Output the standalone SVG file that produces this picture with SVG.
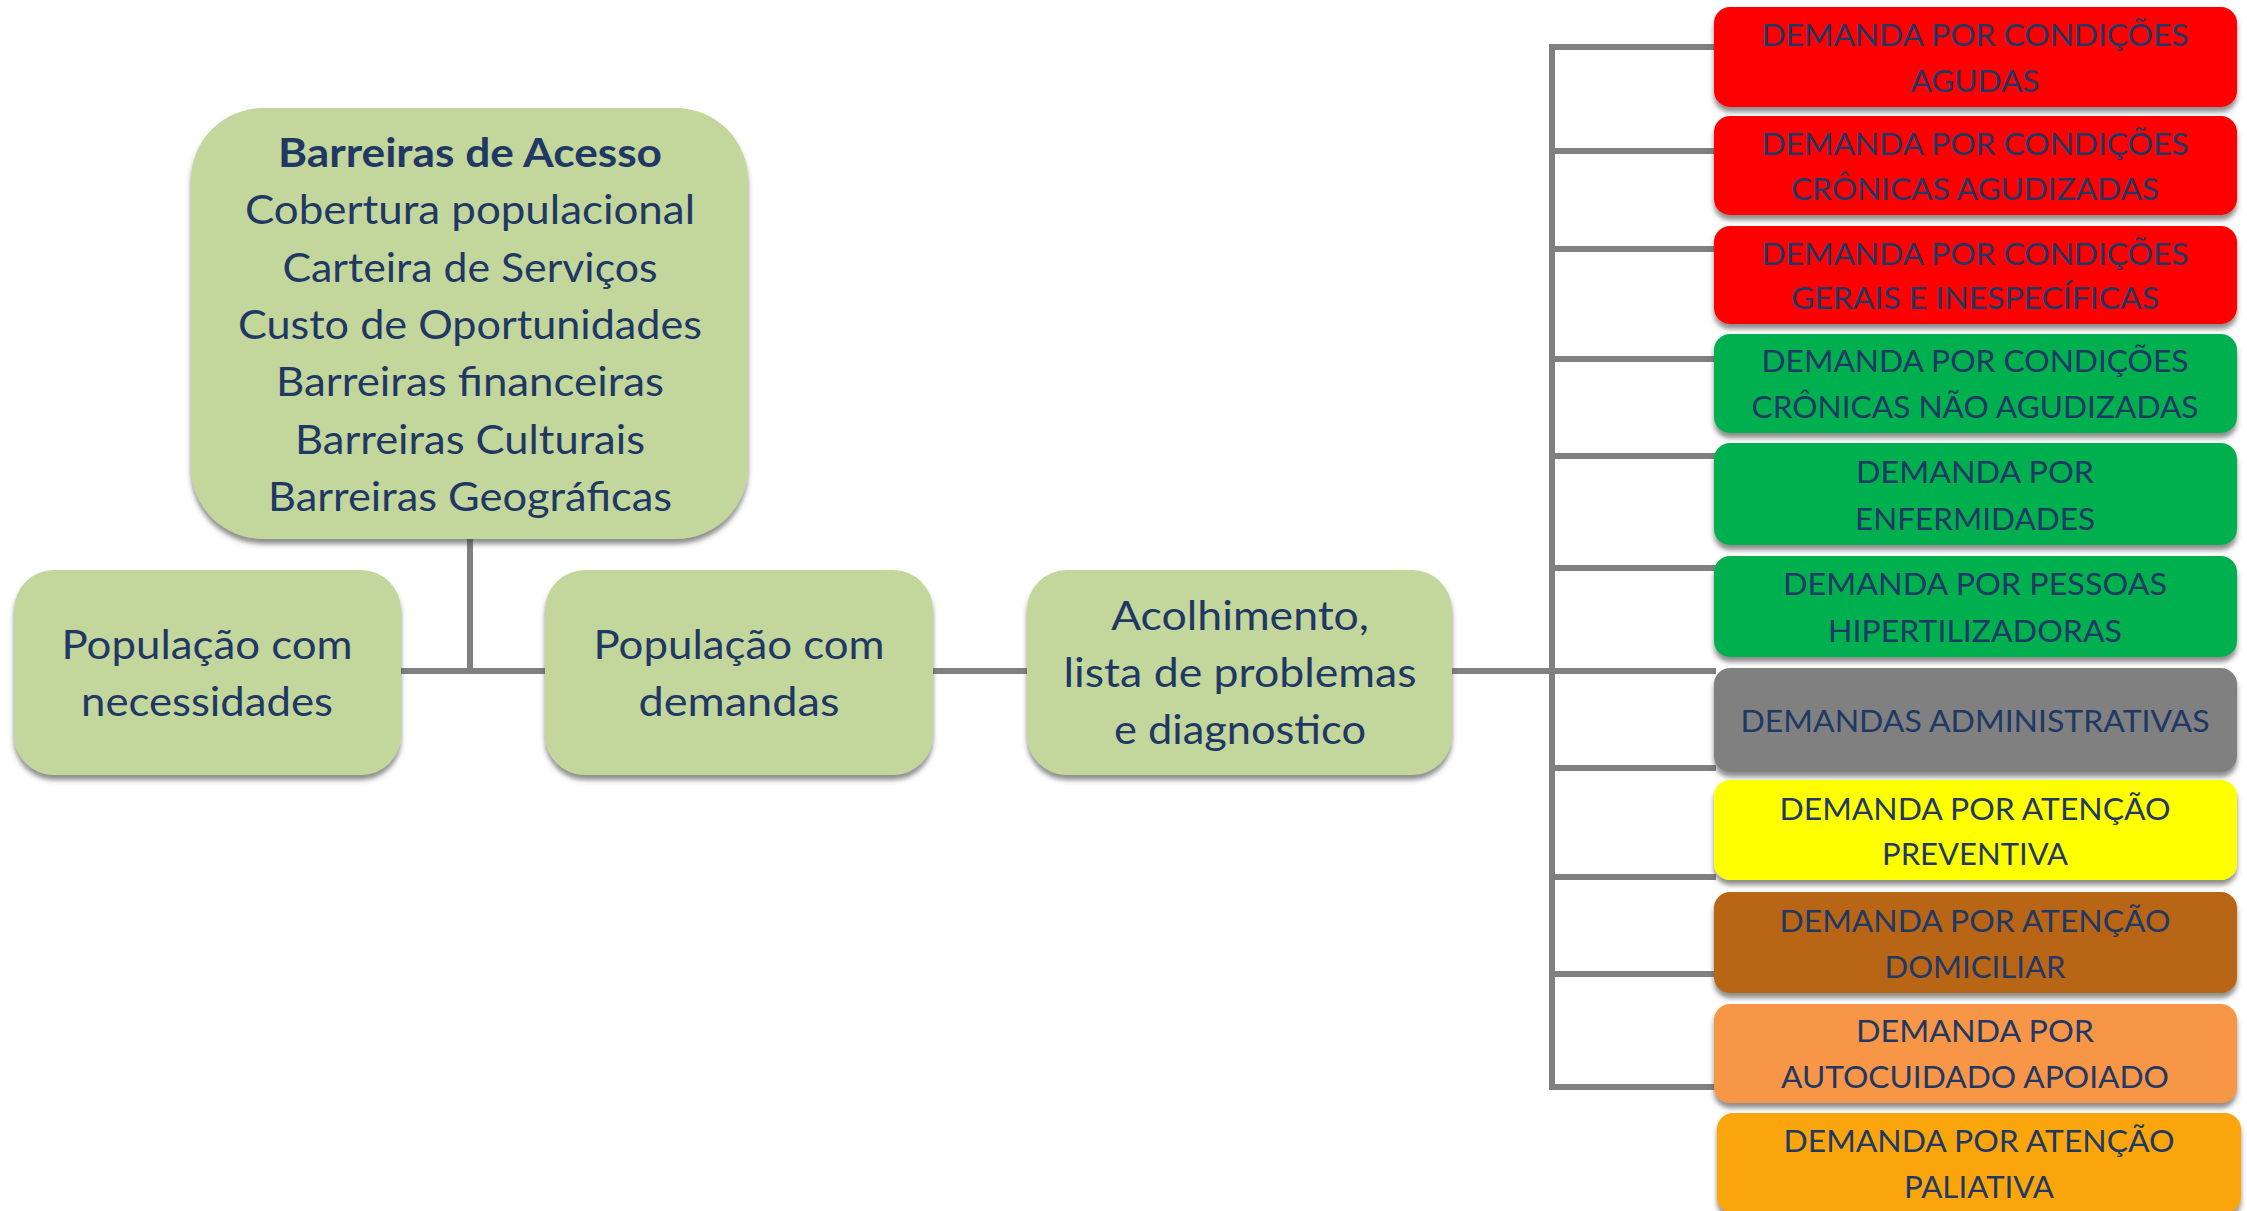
<svg xmlns="http://www.w3.org/2000/svg" width="2247" height="1211" viewBox="0 0 2247 1211">
<defs>
<filter id="sh" x="-10%" y="-10%" width="120%" height="130%">
<feDropShadow dx="0" dy="5" stdDeviation="2.5" flood-color="#404040" flood-opacity="0.6"/>
</filter>
<style>
.g{fill:#C3D69B;filter:url(#sh)}
.r{filter:url(#sh)}
.t{font-family:Lato,"Open Sans","DejaVu Sans",sans-serif;fill:#1F3864;text-anchor:middle}
.big{font-size:41px}
.sm{font-size:31px}
.c{stroke:#808080;stroke-width:6;fill:none}
</style>
</defs>
<rect width="2247" height="1211" fill="#ffffff"/>
<g id="connectors">
<line class="c" x1="470" y1="538" x2="470" y2="671"/>
<line class="c" x1="399" y1="671" x2="547" y2="671"/>
<line class="c" x1="931" y1="671" x2="1029" y2="671"/>
<line class="c" x1="1450" y1="671" x2="1716" y2="671"/>
<polyline class="c" points="1716,47 1552,47 1552,1087 1716,1087"/>
<line class="c" x1="1552" y1="151" x2="1716" y2="151"/>
<line class="c" x1="1552" y1="249" x2="1716" y2="249"/>
<line class="c" x1="1552" y1="359" x2="1716" y2="359"/>
<line class="c" x1="1552" y1="456" x2="1716" y2="456"/>
<line class="c" x1="1552" y1="568" x2="1716" y2="568"/>
<line class="c" x1="1552" y1="768" x2="1716" y2="768"/>
<line class="c" x1="1552" y1="877" x2="1716" y2="877"/>
<line class="c" x1="1552" y1="974" x2="1716" y2="974"/>
</g>
<g id="barreiras">
<rect class="g" x="191" y="108" width="557" height="431" rx="72"/>
<text class="t big" x="470" y="167" font-weight="bold" textLength="384" lengthAdjust="spacingAndGlyphs">Barreiras de Acesso</text>
<text class="t big" x="470" y="224" textLength="450" lengthAdjust="spacingAndGlyphs">Cobertura populacional</text>
<text class="t big" x="470" y="282" textLength="375" lengthAdjust="spacingAndGlyphs">Carteira de Serviços</text>
<text class="t big" x="470" y="339" textLength="464" lengthAdjust="spacingAndGlyphs">Custo de Oportunidades</text>
<text class="t big" x="470" y="396" textLength="388" lengthAdjust="spacingAndGlyphs">Barreiras financeiras</text>
<text class="t big" x="470" y="454" textLength="350" lengthAdjust="spacingAndGlyphs">Barreiras Culturais</text>
<text class="t big" x="470" y="511" textLength="404" lengthAdjust="spacingAndGlyphs">Barreiras Geográficas</text>
</g>
<g id="necessidades">
<rect class="g" x="14" y="570" width="387" height="205" rx="40"/>
<text class="t big" x="207" y="659" textLength="291" lengthAdjust="spacingAndGlyphs">População com</text>
<text class="t big" x="207" y="716" textLength="252" lengthAdjust="spacingAndGlyphs">necessidades</text>
</g>
<g id="demandas">
<rect class="g" x="545" y="570" width="388" height="205" rx="40"/>
<text class="t big" x="739" y="659" textLength="291" lengthAdjust="spacingAndGlyphs">População com</text>
<text class="t big" x="739" y="716" textLength="201" lengthAdjust="spacingAndGlyphs">demandas</text>
</g>
<g id="acolhimento">
<rect class="g" x="1027" y="570" width="425" height="205" rx="40"/>
<text class="t big" x="1240" y="630" textLength="258" lengthAdjust="spacingAndGlyphs">Acolhimento,</text>
<text class="t big" x="1240" y="687" textLength="353" lengthAdjust="spacingAndGlyphs">lista de problemas</text>
<text class="t big" x="1240" y="744" textLength="252" lengthAdjust="spacingAndGlyphs">e diagnostico</text>
</g>
<g id="d1">
<rect class="r" x="1714" y="7" width="523" height="100" rx="16" fill="#FF0000"/>
<text class="t sm" x="1975" y="46" textLength="427" lengthAdjust="spacingAndGlyphs">DEMANDA POR CONDIÇÕES</text>
<text class="t sm" x="1975" y="92" textLength="129" lengthAdjust="spacingAndGlyphs">AGUDAS</text>
</g>
<g id="d2">
<rect class="r" x="1714" y="116" width="523" height="99" rx="16" fill="#FF0000"/>
<text class="t sm" x="1975" y="155" textLength="427" lengthAdjust="spacingAndGlyphs">DEMANDA POR CONDIÇÕES</text>
<text class="t sm" x="1975" y="200" textLength="368" lengthAdjust="spacingAndGlyphs">CRÔNICAS AGUDIZADAS</text>
</g>
<g id="d3">
<rect class="r" x="1714" y="226" width="523" height="98" rx="16" fill="#FF0000"/>
<text class="t sm" x="1975" y="265" textLength="427" lengthAdjust="spacingAndGlyphs">DEMANDA POR CONDIÇÕES</text>
<text class="t sm" x="1975" y="309" textLength="368" lengthAdjust="spacingAndGlyphs">GERAIS E INESPECÍFICAS</text>
</g>
<g id="d4">
<rect class="r" x="1714" y="334" width="523" height="99" rx="16" fill="#00B050"/>
<text class="t sm" x="1975" y="372" textLength="427" lengthAdjust="spacingAndGlyphs">DEMANDA POR CONDIÇÕES</text>
<text class="t sm" x="1975" y="418" textLength="447" lengthAdjust="spacingAndGlyphs">CRÔNICAS NÃO AGUDIZADAS</text>
</g>
<g id="d5">
<rect class="r" x="1714" y="443" width="523" height="102" rx="16" fill="#00B050"/>
<text class="t sm" x="1975" y="483" textLength="238" lengthAdjust="spacingAndGlyphs">DEMANDA POR</text>
<text class="t sm" x="1975" y="530" textLength="240" lengthAdjust="spacingAndGlyphs">ENFERMIDADES</text>
</g>
<g id="d6">
<rect class="r" x="1714" y="556" width="523" height="101" rx="16" fill="#00B050"/>
<text class="t sm" x="1975" y="595" textLength="384" lengthAdjust="spacingAndGlyphs">DEMANDA POR PESSOAS</text>
<text class="t sm" x="1975" y="642" textLength="294" lengthAdjust="spacingAndGlyphs">HIPERTILIZADORAS</text>
</g>
<g id="d7">
<rect class="r" x="1714" y="668" width="523" height="104" rx="16" fill="#808080"/>
<text class="t sm" x="1975" y="732" textLength="469" lengthAdjust="spacingAndGlyphs">DEMANDAS ADMINISTRATIVAS</text>
</g>
<g id="d8">
<rect class="r" x="1714" y="780" width="523" height="100" rx="16" fill="#FFFF00"/>
<text class="t sm" x="1975" y="820" textLength="391" lengthAdjust="spacingAndGlyphs">DEMANDA POR ATENÇÃO</text>
<text class="t sm" x="1975" y="865" textLength="186" lengthAdjust="spacingAndGlyphs">PREVENTIVA</text>
</g>
<g id="d9">
<rect class="r" x="1714" y="892" width="523" height="101" rx="16" fill="#B86613"/>
<text class="t sm" x="1975" y="932" textLength="391" lengthAdjust="spacingAndGlyphs">DEMANDA POR ATENÇÃO</text>
<text class="t sm" x="1975" y="978" textLength="181" lengthAdjust="spacingAndGlyphs">DOMICILIAR</text>
</g>
<g id="d10">
<rect class="r" x="1714" y="1004" width="523" height="99" rx="16" fill="#F79646"/>
<text class="t sm" x="1975" y="1042" textLength="238" lengthAdjust="spacingAndGlyphs">DEMANDA POR</text>
<text class="t sm" x="1975" y="1088" textLength="388" lengthAdjust="spacingAndGlyphs">AUTOCUIDADO  APOIADO</text>
</g>
<g id="d11">
<rect class="r" x="1717" y="1113" width="524" height="100" rx="16" fill="#FBA50F"/>
<text class="t sm" x="1979" y="1152" textLength="391" lengthAdjust="spacingAndGlyphs">DEMANDA POR ATENÇÃO</text>
<text class="t sm" x="1979" y="1198" textLength="150" lengthAdjust="spacingAndGlyphs">PALIATIVA</text>
</g>
</svg>
